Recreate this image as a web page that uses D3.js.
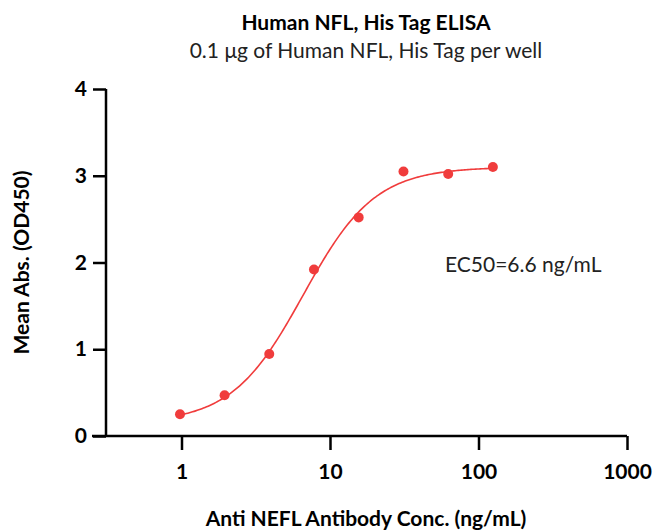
<!DOCTYPE html>
<html>
<head>
<meta charset="utf-8">
<script src="https://cdn.jsdelivr.net/npm/d3@7"></script>
<style>
  body { margin: 0; background: #fff; }
  text { font-family: Lato, "Open Sans", sans-serif; }
</style>
</head>
<body>
<div id="chart"></div>
<script>
const width = 656;
const height = 530;

// data
const conc = [0.977, 1.95, 3.9, 7.8, 15.6, 31.25, 62.5, 125];
const absorb = [0.25, 0.47, 0.945, 1.92, 2.52, 3.05, 3.02, 3.10];
const xTicks = [1, 10, 100, 1000];
const yTicks = [0, 1, 2, 3, 4];

// 4PL fit
const fitBottom = 0.15, fitTop = 3.1, ec50 = 6.6, hill = 1.8;

const margin = {left: 106, right: 29, top: 89, bottom: 94};
const red = "#f03c3c";
const fs = "21px";

let svg = d3.select("#chart").append("svg").attr("width", width).attr("height", height);

// 1 sits ~75px right of the y axis, one decade ~148.5px
let x = d3.scaleLog().domain([Math.pow(10, -(181.5 - margin.left) / 148.5), 1000]).range([margin.left, width - margin.right]);
let y = d3.scaleLinear().domain([0, 4]).range([height - margin.bottom, margin.top]);

// title
svg.append("text").attr("x", 366).attr("y", 30).attr("text-anchor", "middle")
  .style("font-size", fs).style("font-weight", "bold").text("Human NFL, His Tag ELISA");
svg.append("text").attr("x", 366).attr("y", 58).attr("text-anchor", "middle")
  .style("font-size", fs).attr("fill", "#222").text("0.1 μg of Human NFL, His Tag per well");

// y axis
let yAxis = svg.append("g").attr("transform", `translate(${margin.left},0)`)
  .call(d3.axisLeft(y).tickValues(yTicks).tickSize(13).tickPadding(6).tickFormat(d3.format("d")));
// x axis
let xAxis = svg.append("g").attr("transform", `translate(0,${height - margin.bottom})`)
  .call(d3.axisBottom(x).tickValues(xTicks).tickSize(14).tickPadding(14).tickFormat(d3.format("d")));

[yAxis, xAxis].forEach(a => {
  a.select(".domain").attr("stroke", "#000").attr("stroke-width", 2.5);
  a.selectAll(".tick line").attr("stroke", "#000").attr("stroke-width", 2.5);
  a.selectAll(".tick text").attr("fill", "#000").style("font-size", fs).style("font-weight", "bold")
    .style("font-family", "Lato, 'Open Sans', sans-serif");
});
xAxis.select(".domain").attr("d", `M${margin.left - 14},0H${width - margin.right}`);
yAxis.select(".domain").attr("d", `M0,${height - margin.bottom}V${margin.top}`);

// axis titles
svg.append("text").attr("x", 366).attr("y", 526).attr("text-anchor", "middle")
  .style("font-size", fs).style("font-weight", "bold").text("Anti NEFL Antibody Conc. (ng/mL)");
svg.append("text").attr("transform", `translate(29,${y(2)}) rotate(-90)`).attr("text-anchor", "middle")
  .style("font-size", fs).style("font-weight", "bold").text("Mean Abs. (OD450)");

// fit curve
const lo = Math.log10(conc[0]), hi = Math.log10(conc[conc.length - 1]);
const curveX = d3.range(0, 201).map(i => Math.pow(10, lo + i / 200 * (hi - lo)));
const fit = c => fitBottom + (fitTop - fitBottom) / (1 + Math.pow(ec50 / c, hill));
svg.append("path").datum(curveX)
  .attr("fill", "none").attr("stroke", red).attr("stroke-width", 1.6)
  .attr("d", d3.line().x(d => x(d)).y(d => y(fit(d))));

// points
svg.selectAll("circle.pt").data(conc).enter().append("circle").attr("class", "pt")
  .attr("cx", d => x(d)).attr("cy", (d, i) => y(absorb[i])).attr("r", 5).attr("fill", red);

svg.append("text").attr("x", 445).attr("y", 272)
  .style("font-size", fs).attr("fill", "#222").text("EC50=6.6 ng/mL");
</script>
</body>
</html>
